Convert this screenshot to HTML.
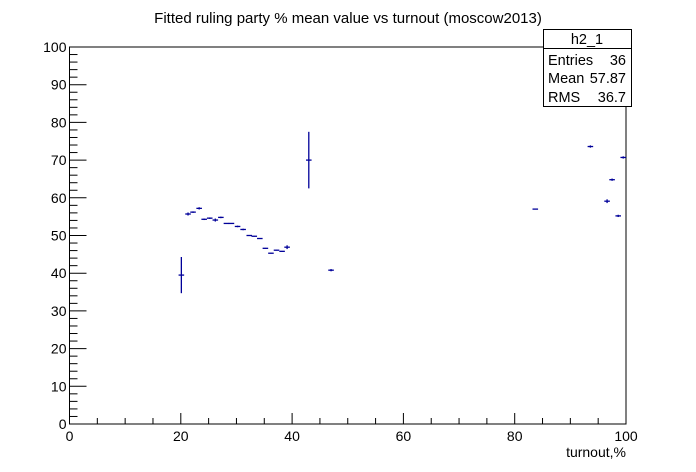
<!DOCTYPE html>
<html><head><meta charset="utf-8"><style>
body{margin:0;background:#fff}
svg{display:block;font-family:"Liberation Sans",Arial,sans-serif}
</style></head><body>
<svg id="c" width="696" height="472">
<text x="348" y="23" text-anchor="middle" font-size="15">Fitted ruling party % mean value vs turnout (moscow2013)</text>
<g id="axes"></g>
<g id="pts"></g>
<text x="626" y="457" text-anchor="end" font-size="14">turnout,%</text>
<g>
<rect x="543.5" y="29.5" width="88" height="77" fill="#fff" stroke="#000"/>
<line x1="543.5" y1="48.5" x2="631.5" y2="48.5" stroke="#000"/>
<text x="587" y="44" text-anchor="middle" font-size="14.5">h2_1</text>
<text x="548" y="65" font-size="14.5">Entries</text><text x="626" y="65" text-anchor="end" font-size="14.5">36</text>
<text x="548" y="83" font-size="14.5">Mean</text><text x="626" y="83" text-anchor="end" font-size="14.5">57.87</text>
<text x="548" y="102" font-size="14.5">RMS</text><text x="626" y="102" text-anchor="end" font-size="14.5">36.7</text>
</g>
</svg>
<script>
const xs=[20.1,21.3,22.2,23.3,24.2,25.2,26.2,27.2,28.2,29.1,30.2,31.2,32.3,33.2,34.2,35.2,36.2,37.2,38.2,39.1,43.0,47.0,83.7,93.6,96.6,97.5,98.6,99.5];
const ys=[39.5,55.7,56.2,57.2,54.3,54.6,54.1,54.8,53.2,53.2,52.4,51.6,50.0,49.8,49.2,46.6,45.3,46.1,45.8,46.9,70.0,40.8,57.0,73.6,59.1,64.8,55.2,70.7];
const errs=[4.8,0.4,0.2,0.3,0.2,0.2,0.4,0.2,0.1,0.1,0.2,0.2,0.1,0.1,0.1,0.1,0.1,0.1,0.1,0.5,7.5,0.3,0.1,0.3,0.5,0.3,0.3,0.3];
const xTicks=[0,20,40,60,80,100];
const yTicks=[0,10,20,30,40,50,60,70,80,90,100];
const X0=69.5,X1=626,Y0=424,Y1=47;
const sx=v=>X0+(X1-X0)*v/100, sy=v=>Y0-(Y0-Y1)*v/100;
const NS='http://www.w3.org/2000/svg';
function mk(t,a,p){const e=document.createElementNS(NS,t);for(const k in a)e.setAttribute(k,a[k]);p.appendChild(e);return e;}
const ax=document.getElementById('axes');
const fr=mk('rect',{x:X0,y:Y1,width:X1-X0,height:Y0-Y1,fill:'none',stroke:'#000'},ax);


for(let v=0;v<=100;v+=2){const y=sy(v);mk('line',{x1:X0,x2:X0+(v%10==0?17:8),y1:y,y2:y,stroke:'#000'},ax);}
for(let v=0;v<=100;v+=5){const x=sx(v);mk('line',{x1:x,x2:x,y1:Y0,y2:Y0-(v%20==0?11:6),stroke:'#000'},ax);}
yTicks.forEach(v=>{const t=mk('text',{x:X0-3,y:sy(v)+5,'text-anchor':'end','font-size':14},ax);t.textContent=v;

});
xTicks.forEach(v=>{const t=mk('text',{x:sx(v),y:Y0+17,'text-anchor':'middle','font-size':14},ax);t.textContent=v;

});
const pg=document.getElementById('pts');
xs.forEach((xv,i)=>{const g=mk('g',{stroke:'#000099','stroke-width':1.3},pg);


const cx=sx(xv),cy=sy(ys[i]),hw=(sx(1)-sx(0))/2;
mk('line',{x1:cx-hw,x2:cx+hw,y1:cy,y2:cy},g);
mk('line',{x1:cx,x2:cx,y1:sy(ys[i]+errs[i]),y2:sy(ys[i]-errs[i])},g);});
</script>
</body></html>
